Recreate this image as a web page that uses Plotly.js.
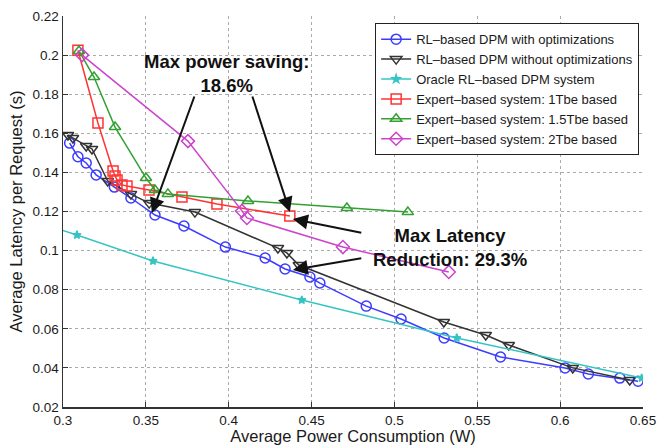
<!DOCTYPE html>
<html>
<head>
<meta charset="utf-8">
<script src="https://cdn.plot.ly/plotly-3.0.1.min.js"></script>
<style>html,body{margin:0;padding:0;background:#fff;}#chart{width:657px;height:445px;}</style>
</head>
<body>
<div id="chart"></div>
<script>
// Series names
const seriesNames = [
  "RL–based DPM with optimizations",
  "RL–based DPM without optimizations",
  "Oracle RL–based DPM system",
  "Expert–based system: 1Tbe based",
  "Expert–based system: 1.5Tbe based",
  "Expert–based system: 2Tbe based"
];

// RL-based DPM with optimizations
const rlOptX = [0.304, 0.309, 0.314, 0.320, 0.331, 0.341, 0.3555, 0.373, 0.398, 0.422, 0.434, 0.449, 0.455, 0.483, 0.504, 0.530, 0.564, 0.603, 0.617, 0.636, 0.647];
const rlOptY = [0.155, 0.148, 0.1448, 0.1387, 0.1325, 0.1269, 0.1182, 0.1126, 0.1018, 0.0962, 0.0906, 0.0865, 0.0834, 0.0716, 0.065, 0.0553, 0.0456, 0.040, 0.0369, 0.0348, 0.0332];

// RL-based DPM without optimizations
const rlNoOptX = [0.303, 0.306, 0.314, 0.3175, 0.327, 0.341, 0.352, 0.3796, 0.4297, 0.4351, 0.4423, 0.5298, 0.5551, 0.569, 0.6076, 0.642];
const rlNoOptY = [0.1591, 0.1576, 0.1535, 0.152, 0.1356, 0.1289, 0.1243, 0.1197, 0.1013, 0.0988, 0.0926, 0.0635, 0.0568, 0.0517, 0.040, 0.0338];

// Oracle RL-based DPM system
const oracleX = [0.290, 0.3084, 0.3543, 0.4441, 0.5376, 0.6492];
const oracleY = [0.113, 0.108, 0.0947, 0.0747, 0.0553, 0.0348];

// Expert-based 1Tbe
const exp1X = [0.309, 0.3211, 0.3302, 0.3314, 0.3326, 0.3356, 0.3386, 0.3519, 0.3718, 0.3929, 0.4369];
const exp1Y = [0.2025, 0.1653, 0.1407, 0.1382, 0.1361, 0.1336, 0.1330, 0.1310, 0.1274, 0.1238, 0.1177];

// Expert-based 1.5Tbe
const exp15X = [0.3096, 0.3187, 0.3314, 0.3501, 0.3555, 0.3633, 0.4116, 0.4713, 0.5081];
const exp15Y = [0.2021, 0.1888, 0.1632, 0.1371, 0.1310, 0.1290, 0.1254, 0.1218, 0.1197];

// Expert-based 2Tbe
const exp2X = [0.3115, 0.3754, 0.408, 0.411, 0.4689, 0.5328];
const exp2Y = [0.2, 0.156, 0.1203, 0.1167, 0.1018, 0.0891];

const xTickVals = [0.3, 0.35, 0.4, 0.45, 0.5, 0.55, 0.6, 0.65];
const xTickText = ["0.3", "0.35", "0.4", "0.45", "0.5", "0.55", "0.6", "0.65"];
const yTickVals = [0.02, 0.04, 0.06, 0.08, 0.1, 0.12, 0.14, 0.16, 0.18, 0.2, 0.22];
const yTickText = ["0.02", "0.04", "0.06", "0.08", "0.1", "0.12", "0.14", "0.16", "0.18", "0.2", "0.22"];

const FONT = "Liberation Sans, Arial, Helvetica, sans-serif";

function tr(x, y, name, color, symbol, msize) {
  return {
    x: x, y: y, name: name, type: "scatter", mode: "lines+markers",
    line: {color: color, width: 1.5},
    marker: {symbol: symbol, size: msize, color: color, line: {color: color, width: 1.5}},
    cliponaxis: true
  };
}

const data = [
  tr(rlOptX, rlOptY, seriesNames[0], "#3c3cff", "circle-open", 10),
  tr(rlNoOptX, rlNoOptY, seriesNames[1], "#333333", "triangle-down-open", 10),
  tr(oracleX, oracleY, seriesNames[2], "#35c4c4", "star", 6),
  tr(exp1X, exp1Y, seriesNames[3], "#ff3333", "square-open", 10),
  tr(exp15X, exp15Y, seriesNames[4], "#33a033", "triangle-up-open", 10),
  tr(exp2X, exp2Y, seriesNames[5], "#cc44cc", "diamond-open", 10)
];

const arrowCommon = {
  showarrow: true, text: "", arrowhead: 2, arrowsize: 1.5, arrowwidth: 2,
  arrowcolor: "#111", xref: "x", yref: "y", axref: "x", ayref: "y"
};

const layout = {
  width: 657, height: 445,
  margin: {l: 63, r: 14, t: 16, b: 38},
  paper_bgcolor: "#fff", plot_bgcolor: "#fff",
  font: {family: FONT, color: "#1a1a1a", size: 13},
  showlegend: true,
  legend: {
    x: 0.993, y: 0.982, xanchor: "right", yanchor: "top",
    bgcolor: "#fff", bordercolor: "#222", borderwidth: 1.2,
    font: {family: FONT, size: 13, color: "#1a1a1a"},
    tracegroupgap: 0, itemwidth: 30
  },
  xaxis: {
    range: [0.3, 0.65], tickvals: xTickVals, ticktext: xTickText,
    ticks: "inside", ticklen: 5, tickcolor: "#333", tickwidth: 1.2,
    showline: true, linecolor: "#333", linewidth: 1.5,
    showgrid: true, gridcolor: "#aaaaaa", griddash: "dot", gridwidth: 1.2,
    zeroline: false,
    tickfont: {family: FONT, size: 13.5, color: "#1a1a1a"},
    title: {text: "Average Power Consumption (W)", font: {family: FONT, size: 16.5, color: "#1a1a1a"}, standoff: 1}
  },
  yaxis: {
    range: [0.02, 0.22], tickvals: yTickVals, ticktext: yTickText,
    ticks: "inside", ticklen: 5, tickcolor: "#333", tickwidth: 1.2,
    showline: true, linecolor: "#333", linewidth: 1.5,
    showgrid: true, gridcolor: "#aaaaaa", griddash: "dot", gridwidth: 1.2,
    zeroline: false,
    tickfont: {family: FONT, size: 13.5, color: "#1a1a1a"},
    title: {text: "Average Latency per Request (s)", font: {family: FONT, size: 16.5, color: "#1a1a1a"}, standoff: 5}
  },
  annotations: [
    Object.assign({}, arrowCommon, {x: 0.3537, y: 0.1192, ax: 0.3796, ay: 0.1796}),
    Object.assign({}, arrowCommon, {x: 0.4369, y: 0.1197, ax: 0.414, ay: 0.1796}),
    Object.assign({}, arrowCommon, {x: 0.4387, y: 0.1162, ax: 0.4809, ay: 0.109}),
    Object.assign({}, arrowCommon, {x: 0.4387, y: 0.0901, ax: 0.4809, ay: 0.0962}),
    {
      xref: "x", yref: "y", x: 0.399, y: 0.1905, showarrow: false,
      text: "<b>Max power saving:</b><br><b>18.6%</b>",
      font: {family: FONT, size: 18.5, color: "#111"}, align: "center"
    },
    {
      xref: "x", yref: "y", x: 0.5335, y: 0.1018, showarrow: false,
      text: "<b>Max Latency</b><br><b>Reduction: 29.3%</b>",
      font: {family: FONT, size: 18.5, color: "#111"}, align: "center"
    }
  ]
};

Plotly.newPlot("chart", data, layout, {displayModeBar: false, staticPlot: true});
</script>
</body>
</html>
